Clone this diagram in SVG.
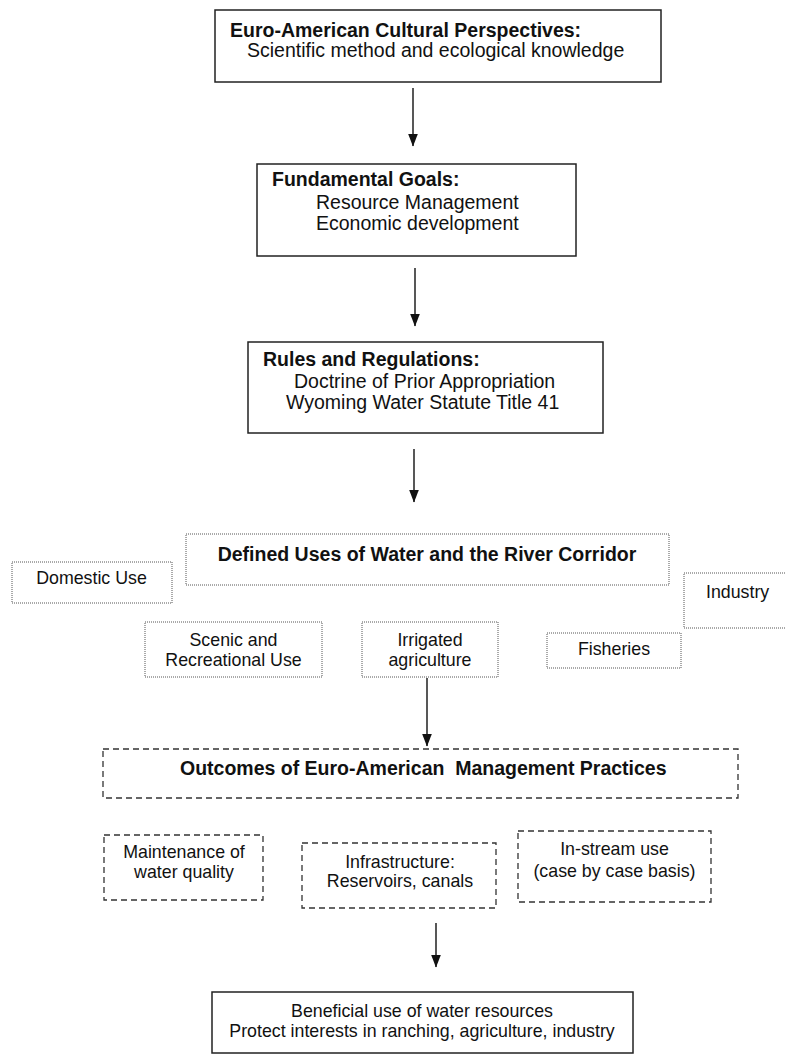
<svg xmlns="http://www.w3.org/2000/svg" width="785" height="1061" viewBox="0 0 785 1061">
<defs>
<marker id="ah" markerUnits="userSpaceOnUse" markerWidth="13" markerHeight="10" viewBox="0 0 13 10" refX="12.5" refY="5" orient="auto">
<path d="M0,0 L13,5 L0,10 Z" fill="#111"/>
</marker>
</defs>
<style>
text{font-family:"Liberation Sans",Arial,sans-serif;fill:#111}
.b{font-weight:bold;font-size:19.5px}
.r{font-size:19.5px}
.s{font-size:17.8px}
.m{text-anchor:middle}
.solid{fill:#fff;stroke:#222;stroke-width:1.5}
.dot{fill:#fff;stroke:#555;stroke-width:1;stroke-dasharray:1 1}
.dash{fill:#fff;stroke:#333;stroke-width:1.3;stroke-dasharray:6 4}
.c{stroke:#111;stroke-width:1.4;fill:none}
</style>
<rect width="785" height="1061" fill="#fff"/>
<g id="connectors">
<line class="c" x1="413" y1="88" x2="413" y2="146" marker-end="url(#ah)"/>
<line class="c" x1="415" y1="268" x2="415" y2="326" marker-end="url(#ah)"/>
<line class="c" x1="414" y1="449" x2="414" y2="502" marker-end="url(#ah)"/>
<line class="c" x1="427" y1="678" x2="427" y2="746" marker-end="url(#ah)"/>
<line class="c" x1="436" y1="923" x2="436" y2="967" marker-end="url(#ah)"/>
</g>
<g id="perspectives">
<rect class="solid" x="215" y="10" width="446" height="72"/>
<text class="b" x="230" y="37">Euro-American Cultural Perspectives:</text>
<text class="r" x="247" y="57">Scientific method and ecological knowledge</text>
</g>
<g id="goals">
<rect class="solid" x="257" y="164" width="319" height="92"/>
<text class="b" x="272" y="186">Fundamental Goals:</text>
<text class="r" x="316" y="209">Resource Management</text>
<text class="r" x="316" y="230">Economic development</text>
</g>
<g id="rules">
<rect class="solid" x="248" y="342" width="355" height="91"/>
<text class="b" x="263" y="366">Rules and Regulations:</text>
<text class="r" x="294" y="388">Doctrine of Prior Appropriation</text>
<text class="r" x="286" y="409">Wyoming Water Statute Title 41</text>
</g>
<g id="defined-uses">
<rect class="dot" x="186" y="534" width="483" height="51"/>
<text class="b m" x="427" y="561">Defined Uses of Water and the River Corridor</text>
</g>
<g id="domestic">
<rect class="dot" x="12" y="562" width="160" height="41"/>
<text class="s m" x="91.5" y="584">Domestic Use</text>
</g>
<g id="industry">
<rect class="dot" x="684" y="573" width="110" height="55"/>
<text class="s" x="706" y="598">Industry</text>
</g>
<g id="scenic">
<rect class="dot" x="145" y="622" width="177" height="55"/>
<text class="s m" x="233.5" y="646">Scenic and</text>
<text class="s m" x="233.5" y="666">Recreational Use</text>
</g>
<g id="irrigated">
<rect class="dot" x="362" y="622" width="136" height="55"/>
<text class="s m" x="430" y="646">Irrigated</text>
<text class="s m" x="430" y="666">agriculture</text>
</g>
<g id="fisheries">
<rect class="dot" x="547" y="633" width="134" height="35"/>
<text class="s m" x="614" y="655">Fisheries</text>
</g>
<g id="outcomes">
<rect class="dash" x="103" y="749" width="635" height="49"/>
<text class="b" x="180" y="775" xml:space="preserve">Outcomes of Euro-American  Management Practices</text>
</g>
<g id="water-quality">
<rect class="dash" x="104" y="835" width="159" height="65"/>
<text class="s m" x="184" y="858">Maintenance of</text>
<text class="s m" x="184" y="878">water quality</text>
</g>
<g id="infrastructure">
<rect class="dash" x="302" y="843" width="194" height="65"/>
<text class="s m" x="400" y="868">Infrastructure:</text>
<text class="s m" x="400" y="887">Reservoirs, canals</text>
</g>
<g id="in-stream">
<rect class="dash" x="518" y="831" width="193" height="71"/>
<text class="s m" x="614.5" y="855">In-stream use</text>
<text class="s m" x="614.5" y="877">(case by case basis)</text>
</g>
<g id="beneficial">
<rect class="solid" x="212" y="992" width="421" height="61"/>
<text class="s m" x="422" y="1017">Beneficial use of water resources</text>
<text class="s m" x="422" y="1037">Protect interests in ranching, agriculture, industry</text>
</g>
</svg>
